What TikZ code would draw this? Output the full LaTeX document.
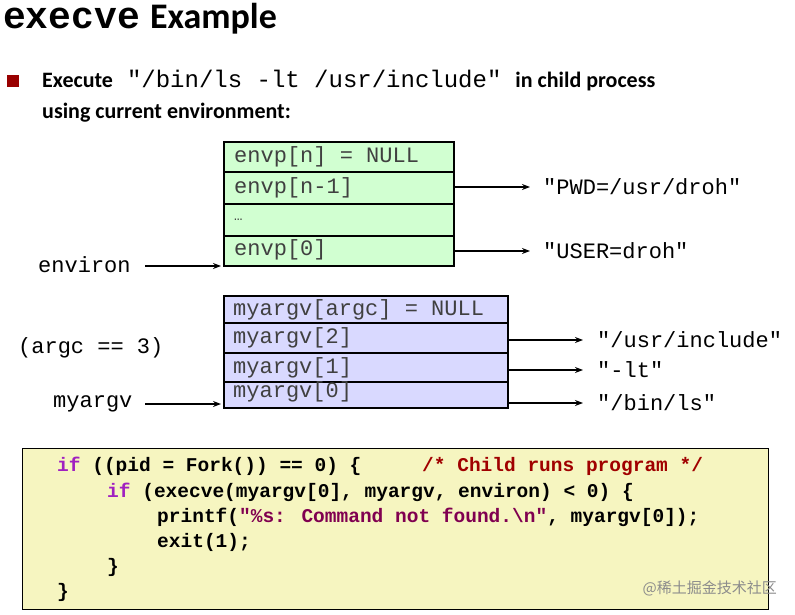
\documentclass[tikz,border=0pt]{standalone}
\usepackage{fontspec}
\usetikzlibrary{arrows.meta}
\setmainfont{Carlito}
\newfontfamily\mono{Liberation Mono}
\newfontfamily\cjk{Noto Sans CJK SC}
\begin{document}
\begin{tikzpicture}[x=1pt,y=-1pt,
 cell/.style={draw=black,line width=2.2pt},
 ct/.style={anchor=west,inner sep=0,font=\mono\fontsize{22}{22}\selectfont,text=black!75},
 lab/.style={anchor=west,inner sep=0,font=\mono\fontsize{22}{22}\selectfont},
 code/.style={anchor=west,inner sep=0,font=\mono\bfseries\fontsize{19.5}{20}\selectfont},
 arr/.style={-{Stealth[length=8pt,width=6pt]},line width=1.6pt}]
\useasboundingbox (0,0) rectangle (795,615);
\definecolor{kw}{HTML}{A020C0}\definecolor{cm}{HTML}{A00000}\definecolor{st}{HTML}{800050}
% title
\node[anchor=west,inner sep=0] (title) at (3,19) {{\mono\bfseries\fontsize{38}{38}\selectfont execve}\hspace{10pt}{\bfseries\fontsize{36}{36}\selectfont Example}};
\fill[red!60!black] (7,75) rectangle (19,87);
\node[anchor=west,inner sep=0,font=\bfseries\fontsize{22}{24}\selectfont] (b1) at (42,81) {Execute\hspace{14pt}{\mono\mdseries\fontsize{24}{24}\selectfont "/bin/ls -lt /usr/include"}\hspace{14pt}in child process};
\node[anchor=west,inner sep=0,font=\bfseries\fontsize{22}{24}\selectfont] (b2) at (42,113) {using current environment:};
% envp
\foreach \a/\b in {142/172,172/204,204/236,236/266}
 \filldraw[cell,fill=green!18] (224,\a) rectangle (454,\b);
\node[ct] (e0) at (234,157) {envp[n] = NULL};
\node[ct] (e1) at (234,188) {envp[n-1]};
\node[ct] (e2) at (234,220) {\fontsize{14}{14}\selectfont …};
\node[ct] (e3) at (234,250) {envp[0]};
\coordinate (e1r) at (454,187); \coordinate (e3r) at (454,251);
\node[lab] (pwd) at (543,187) {"PWD=/usr/droh"};
\node[lab] (usr) at (543,251) {"USER=droh"};
\draw[arr] (e1r) -- (530,187);
\draw[arr] (e3r) -- (530,251);
\node[lab] (env) at (38,265) {environ};
\coordinate (envt) at (221,266);
\draw[arr] (145,266) -- (envt);
% argv
\foreach \a/\b in {296/323,323/353,353/382,382/408}
 \filldraw[cell,fill=blue!15] (224,\a) rectangle (508,\b);
\node[ct] (a3) at (233,310) {myargv[argc] = NULL};
\node[ct] (a2) at (233,338) {myargv[2]};
\node[ct] (a1) at (233,368) {myargv[1]};
\node[ct] (a0) at (233,392) {myargv[0]};
\node[lab] (l2) at (597,340) {"/usr/include"};
\node[lab] (l1) at (597,370) {"-lt"};
\node[lab] (l0) at (597,403) {"/bin/ls"};
\draw[arr] (508,340) -- (583,340);
\draw[arr] (508,370) -- (583,370);
\draw[arr] (508,403) -- (583,403);
\node[lab] (argc) at (18,348) {(argc == 3)};
\node[lab] (mya) at (53,404) {myargv};
\draw[arr] (145,404) -- (221,404);
% code
\filldraw[draw=black,line width=1pt,fill={rgb,255:red,246;green,245;blue,192}] (22,448) rectangle (768,609);
\node[code] (c1) at (57,466) {\textcolor{kw}{if} ((pid = Fork()) == 0) \{};
\node[code] (c1b) at (422,466) {\textcolor{cm}{/* Child runs program */}};
\node[code] (c2) at (107,492) {\textcolor{kw}{if} (execve(myargv[0], myargv, environ) < 0) \{};
\node[code] (c3) at (157,517) {printf(\textcolor{st}{"\%s: Command not found.\textbackslash n"}, myargv[0]);};
\node[code] (c4) at (157,542) {exit(1);};
\node[code] (c5) at (107,567) {\}};
\node[code] (c6) at (57,592) {\}};
\node[anchor=east,inner sep=0,text=black!45,font=\cjk\fontsize{15}{15}\selectfont] (wm) at (777,588) {@稀土掘金技术社区};
\end{tikzpicture}
\end{document}
